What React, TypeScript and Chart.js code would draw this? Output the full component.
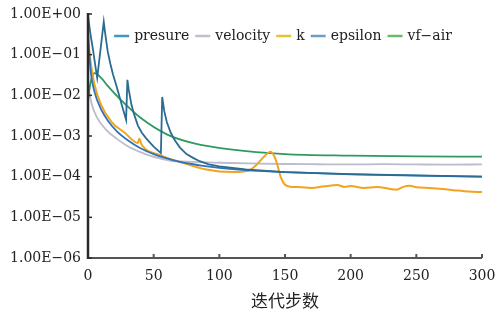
import React, { useEffect, useRef } from "react";
import { Chart, registerables } from "chart.js";

Chart.register(...registerables);

const seriesNames = ["presure", "velocity", "k", "epsilon", "vf−air"];
const lineColors = ["#2b6c93", "#bcbccc", "#f2a31f", "#2f74b5", "#2f9a5f"];
const legendColors = ["#3d97be", "#c0c0cc", "#e2c236", "#6b9fc8", "#6cb86c"];

const presureIter = [0, 2, 4, 5.5, 7, 12, 13, 15, 17, 19, 21, 23, 25, 27, 29, 30, 31, 33, 35, 38, 41, 44, 47, 50, 53, 55.5, 56.5, 58, 60, 63, 66, 70, 75, 80, 85, 92, 100, 120, 150, 200, 250, 300];
const presureVal = [0.9, 0.3, 0.12, 0.055, 0.027, 0.64, 0.35, 0.12, 0.06, 0.033, 0.02, 0.012, 0.007, 0.0042, 0.0025, 0.024, 0.014, 0.006, 0.0035, 0.0018, 0.0012, 0.0009, 0.0007, 0.00055, 0.00045, 0.00038, 0.0091, 0.0042, 0.0022, 0.0012, 0.0008, 0.00052, 0.00036, 0.00029, 0.00024, 0.0002, 0.00018, 0.00015, 0.00013, 0.000115, 0.000107, 0.0001];

const velocityIter = [0, 1, 3, 7, 14, 22, 30, 40, 47, 55, 62, 80, 100, 130, 150, 175, 200, 225, 250, 275, 300];
const velocityVal = [0.02, 0.012, 0.0058, 0.0028, 0.0014, 0.00085, 0.00057, 0.0004, 0.00033, 0.00028, 0.00025, 0.00023, 0.00022, 0.00021, 0.000205, 0.000202, 0.0002, 0.000203, 0.0002, 0.000198, 0.0002];

const kIter = [0, 2, 5, 10, 18, 28, 38, 39, 41, 55, 70, 90, 110, 122, 128, 134, 139, 143, 147, 150, 155, 160, 170, 180, 190, 195, 200, 210, 220, 230, 235, 240, 245, 250, 260, 270, 280, 290, 300];
const kVal = [0.23, 0.066, 0.018, 0.0058, 0.0022, 0.0012, 0.00067, 0.00085, 0.0006, 0.00034, 0.00023, 0.00015, 0.00013, 0.00014, 0.00019, 0.00031, 0.00041, 0.00026, 0.000093, 0.000063, 0.000056, 0.000056, 0.000053, 0.000058, 0.000062, 0.000056, 0.000059, 0.000053, 0.000056, 0.00005, 0.000048, 0.000056, 0.00006, 0.000055, 0.000053, 0.00005, 0.000046, 0.000043, 0.000042];

const epsilonIter = [0, 2, 5, 10, 15, 22, 30, 40, 50, 60, 70, 85, 100, 120, 150, 200, 250, 300];
const epsilonVal = [0.35, 0.04, 0.012, 0.0045, 0.0024, 0.0013, 0.0008, 0.0005, 0.00036, 0.00028, 0.00023, 0.00019, 0.000165, 0.000145, 0.00013, 0.000114, 0.000106, 0.0001];

const vfIter = [0, 2, 5, 10, 15, 25, 40, 60, 80, 110, 150, 200, 250, 300];
const vfVal = [0.0077, 0.021, 0.035, 0.027, 0.017, 0.0077, 0.0028, 0.0011, 0.00067, 0.00046, 0.00036, 0.00033, 0.000315, 0.00031];

const xTicks = [0, 50, 100, 150, 200, 250, 300];
const yTickValues = [1, 1e-1, 1e-2, 1e-3, 1e-4, 1e-5, 1e-6];
const yTickLabels = ["1.00E+00", "1.00E−01", "1.00E−02", "1.00E−03", "1.00E−04", "1.00E−05", "1.00E−06"];
const xTitle = "迭代步数";

const FONT = "'DejaVu Serif', serif";

const toPoints = (xs: number[], ys: number[]) => xs.map((x, i) => ({ x, y: ys[i] }));

const axesPlugin = {
  id: "axesDraw",
  afterDraw(chart: any) {
    const { ctx, chartArea, scales } = chart;
    const { left, right, top, bottom } = chartArea;
    ctx.save();
    ctx.strokeStyle = "#555";
    ctx.lineWidth = 2;
    ctx.beginPath();
    ctx.moveTo(left, bottom);
    ctx.lineTo(right, bottom);
    ctx.stroke();
    scales.x.ticks.forEach((t: any) => {
      const px = scales.x.getPixelForValue(t.value);
      ctx.beginPath();
      ctx.moveTo(px, bottom);
      ctx.lineTo(px, bottom - 4);
      ctx.stroke();
    });
    ctx.strokeStyle = "#2a2a2a";
    ctx.lineWidth = 2.5;
    ctx.beginPath();
    ctx.moveTo(left, top - 1);
    ctx.lineTo(left, bottom + 1);
    ctx.stroke();
    ctx.lineWidth = 1.5;
    scales.y.ticks.forEach((t: any) => {
      const py = scales.y.getPixelForValue(t.value);
      ctx.beginPath();
      ctx.moveTo(left, py);
      ctx.lineTo(left + 4, py);
      ctx.stroke();
    });
    ctx.font = `14px ${FONT}`;
    ctx.textBaseline = "middle";
    ctx.textAlign = "left";
    const sw = 15, gap = 5, itemGap = 6;
    const widths = seriesNames.map((n) => ctx.measureText(n).width);
    const total = widths.reduce((a, w) => a + sw + gap + w, 0) + itemGap * (seriesNames.length - 1);
    let x = (left + right) / 2 - total / 2 - 2;
    const y = top + 22;
    seriesNames.forEach((n, i) => {
      ctx.strokeStyle = legendColors[i];
      ctx.lineWidth = 2.5;
      ctx.beginPath();
      ctx.moveTo(x, y);
      ctx.lineTo(x + sw, y);
      ctx.stroke();
      ctx.fillStyle = "#222";
      ctx.fillText(n, x + sw + gap, y);
      x += sw + gap + widths[i] + itemGap;
    });
    ctx.restore();
  },
};

export default function App() {
  const ref = useRef<HTMLCanvasElement | null>(null);
  useEffect(() => {
    if (!ref.current) return;
    Chart.defaults.font.family = FONT;
    const iters = [presureIter, velocityIter, kIter, epsilonIter, vfIter];
    const vals = [presureVal, velocityVal, kVal, epsilonVal, vfVal];
    const orders = [1, 5, 3, 2, 4];
    const chart = new Chart(ref.current, {
      type: "line",
      data: {
        datasets: seriesNames.map((name, i) => ({
          label: name,
          data: toPoints(iters[i], vals[i]),
          borderColor: lineColors[i],
          backgroundColor: lineColors[i],
          borderWidth: i === 2 ? 2 : 1.8,
          pointRadius: 0,
          tension: 0,
          cubicInterpolationMode: i === 0 ? "default" : "monotone",
          order: orders[i],
        })),
      },
      options: {
        animation: false,
        responsive: true,
        maintainAspectRatio: false,
        layout: { padding: { top: 14, right: 17, left: 0, bottom: 0 } },
        plugins: {
          tooltip: { enabled: false },
          legend: { display: false },
        },
        scales: {
          x: {
            type: "linear",
            min: 0,
            max: 300,
            grid: { display: false, drawTicks: false },
            border: { display: false },
            afterBuildTicks: (s: any) => {
              s.ticks = xTicks.map((v) => ({ value: v }));
            },
            afterFit: (s: any) => {
              s.height = 60;
              s.paddingRight = 0;
              s.paddingLeft = 0;
            },
            ticks: {
              padding: 10,
              maxRotation: 0,
              autoSkip: false,
              color: "#222",
              font: { size: 14 },
            },
            title: {
              display: true,
              text: xTitle,
              color: "#222",
              font: { family: "'Noto Sans CJK SC'", size: 17 },
              padding: { top: 0, bottom: 7 },
            },
          },
          y: {
            type: "logarithmic",
            min: 1e-6,
            max: 1,
            grid: { display: false, drawTicks: false },
            border: { display: false },
            afterBuildTicks: (s: any) => {
              s.ticks = yTickValues.map((v) => ({ value: v }));
            },
            afterFit: (s: any) => {
              s.width = 88;
              s.paddingTop = 0;
              s.paddingBottom = 0;
            },
            ticks: {
              padding: 7,
              color: "#222",
              font: { size: 14 },
              callback: (_v: any, idx: number) => yTickLabels[idx],
            },
          },
        },
      },
      plugins: [axesPlugin],
    });
    return () => chart.destroy();
  }, []);
  return (
    <div style={{ position: "fixed", left: 0, top: 0, width: 499, height: 318, background: "#fff" }}>
      <canvas ref={ref} />
    </div>
  );
}
